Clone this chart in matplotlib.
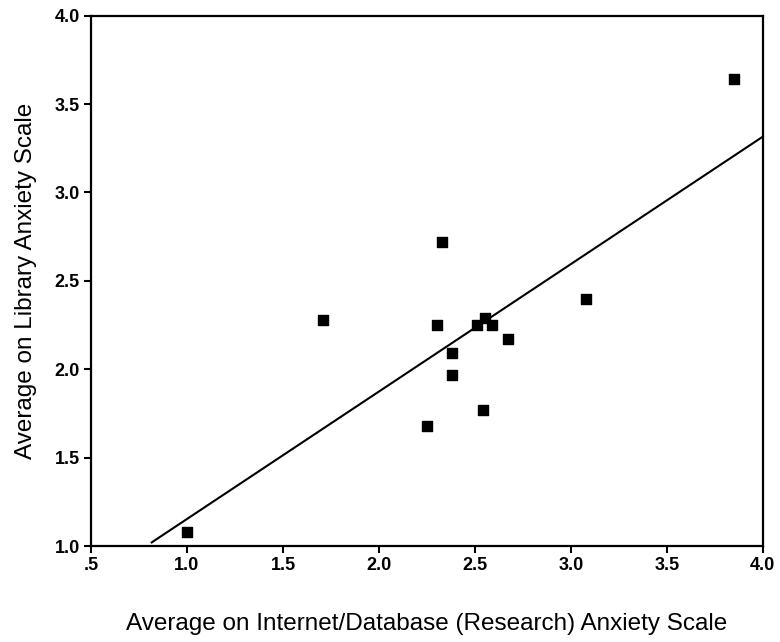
import numpy as np
import matplotlib.pyplot as plt

plt.rcParams['font.family'] = ['Liberation Sans', 'DejaVu Sans']

# internet/database anxiety (x) vs library anxiety (y)
internet = [1.00, 1.71, 2.25, 2.30, 2.33, 2.38, 2.38, 2.51, 2.54, 2.55, 2.59, 2.67, 3.08, 3.85]
library = [1.08, 2.28, 1.68, 2.25, 2.72, 2.09, 1.97, 2.25, 1.77, 2.29, 2.25, 2.17, 2.40, 3.64]

# fitted line
fit_x = [0.816, 4.0]
intercept = 0.432
slope = 0.721

x_ticks = [0.5, 1.0, 1.5, 2.0, 2.5, 3.0, 3.5, 4.0]
x_labels = ['.5', '1.0', '1.5', '2.0', '2.5', '3.0', '3.5', '4.0']
y_ticks = [1.0, 1.5, 2.0, 2.5, 3.0, 3.5, 4.0]
y_labels = ['1.0', '1.5', '2.0', '2.5', '3.0', '3.5', '4.0']

fig = plt.figure(figsize=(7.8, 6.42), dpi=100)
ax = fig.add_axes([0.1167, 0.1495, 0.8613, 0.826])

ax.scatter(internet, library, marker='s', s=50, color='black', zorder=3)
fx = np.array(fit_x)
ax.plot(fx, intercept + slope * fx, color='black', lw=1.5, clip_on=False)

ax.set_xlim(0.5, 4.0)
ax.set_ylim(1.0, 4.0)
ax.set_xticks(x_ticks)
ax.set_xticklabels(x_labels)
ax.set_yticks(y_ticks)
ax.set_yticklabels(y_labels)
ax.tick_params(direction='out', length=5, width=1.5, labelsize=13, pad=3)
for lab in ax.get_xticklabels() + ax.get_yticklabels():
    lab.set_fontweight('bold')
for sp in ax.spines.values():
    sp.set_linewidth(1.6)

ax.set_xlabel('Average on Internet/Database (Research) Anxiety Scale', fontsize=17.5, labelpad=28)
ax.set_ylabel('Average on Library Anxiety Scale', fontsize=17.5, labelpad=13)

fig.savefig('out.png', dpi=100)
